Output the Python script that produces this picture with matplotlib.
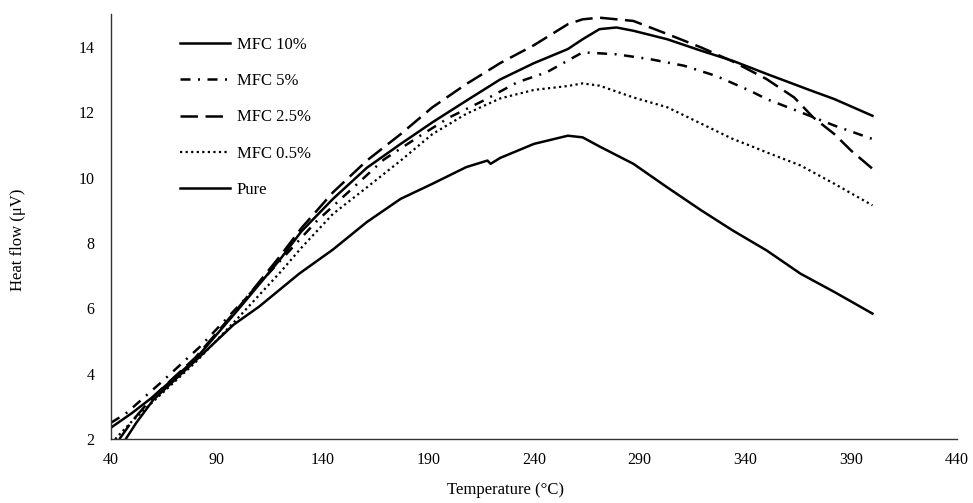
import matplotlib
matplotlib.use("Agg")
import matplotlib.pyplot as plt

# Datos (temperatura en °C, flujo de calor en µV)
T_MFC10 = [40, 50, 60, 80, 100, 120, 130, 145, 161, 177, 192, 208, 224, 240, 256, 263, 271, 279, 287, 303, 319, 334, 350, 371, 382, 400]
Y_MFC10 = [2.35, 2.8, 3.3, 4.45, 5.95, 7.5, 8.35, 9.35, 10.3, 11.03, 11.69, 12.35, 13.0, 13.5, 13.93, 14.23, 14.54, 14.59, 14.49, 14.23, 13.88, 13.57, 13.17, 12.66, 12.4, 11.89]

T_MFC5 = [40, 47, 64, 82, 100, 120, 137, 153, 169, 185, 200, 216, 232, 246, 263, 279, 295, 311, 326, 342, 350, 366, 382, 400]
Y_MFC5 = [2.5, 2.78, 3.75, 4.82, 6.05, 7.45, 8.65, 9.6, 10.55, 11.23, 11.84, 12.35, 12.91, 13.22, 13.83, 13.77, 13.62, 13.42, 13.11, 12.66, 12.4, 12.0, 11.59, 11.18]

T_MFC25 = [44, 50, 60, 80, 100, 120, 130, 145, 161, 177, 192, 208, 224, 240, 256, 263, 271, 287, 303, 319, 334, 350, 363, 372, 382, 390, 400]
Y_MFC25 = [2.0, 2.55, 3.3, 4.5, 6.0, 7.6, 8.45, 9.55, 10.52, 11.33, 12.15, 12.86, 13.5, 14.05, 14.69, 14.84, 14.89, 14.79, 14.39, 13.98, 13.55, 13.01, 12.45, 11.84, 11.33, 10.82, 10.27]

T_MFC05 = [42, 50, 60, 80, 100, 120, 130, 145, 161, 177, 192, 208, 224, 240, 256, 263, 271, 287, 303, 319, 334, 342, 350, 366, 382, 400]
Y_MFC05 = [2.0, 2.55, 3.15, 4.35, 5.7, 7.1, 7.85, 8.89, 9.7, 10.52, 11.33, 11.95, 12.42, 12.68, 12.8, 12.88, 12.81, 12.45, 12.15, 11.65, 11.18, 10.98, 10.77, 10.37, 9.81, 9.15]

T_PURE = [47, 52, 60, 80, 98, 110, 129, 145, 161, 177, 192, 208, 218, 219.5, 224, 240, 256, 263, 271, 287, 303, 319, 334, 350, 366, 382, 400]
Y_PURE = [2.0, 2.5, 3.2, 4.4, 5.5, 6.05, 7.06, 7.8, 8.64, 9.35, 9.81, 10.32, 10.52, 10.42, 10.6, 11.03, 11.28, 11.23, 10.95, 10.42, 9.7, 9.0, 8.38, 7.77, 7.06, 6.5, 5.84]

X_TICKS = [40, 90, 140, 190, 240, 290, 340, 390, 440]
Y_TICKS = [2, 4, 6, 8, 10, 12, 14]

plt.rcParams['font.family'] = ['Liberation Serif', 'DejaVu Serif']
plt.rcParams['font.size'] = 11.5

fig = plt.figure(figsize=(9.73, 5.03), dpi=100)
ax = fig.add_axes([0.114, 0.127, 0.8696, 0.845])

lw = 1.8
ax.plot(T_MFC10, Y_MFC10, color='black', lw=lw, ls='-', label='MFC 10%')
ax.plot(T_MFC5, Y_MFC5, color='black', lw=lw, ls=(0, (4, 3, 0.8, 3)), label='MFC 5%')
ax.plot(T_MFC25, Y_MFC25, color='black', lw=lw, ls=(0, (7, 3)), label='MFC 2.5%')
ax.plot(T_MFC05, Y_MFC05, color='black', lw=1.6, ls=(0, (1, 1.5)), label='MFC 0.5%')
ax.plot(T_PURE, Y_PURE, color='black', lw=lw, ls='-', label='Pure')

ax.set_xlim(40, 440)
ax.set_ylim(2, 15)
ax.set_xticks(X_TICKS)
ax.set_yticks(Y_TICKS)
ax.tick_params(length=0)
ax.tick_params(axis='y', pad=12)
ax.tick_params(axis='x', pad=9)

for lado in ['top', 'right']:
    ax.spines[lado].set_visible(False)
for lado in ['left', 'bottom']:
    ax.spines[lado].set_color('#333333')
    ax.spines[lado].set_linewidth(1.0)

ax.set_xlabel('Temperature (°C)', fontsize=12)
ax.set_ylabel('Heat flow (μV)', fontsize=12)
ax.xaxis.set_label_coords(0.466, -0.10)
ax.yaxis.set_label_coords(-0.10, 0.468)

ax.legend(loc='upper left', bbox_to_anchor=(0.0816, 0.946), frameon=False,
          borderpad=0, borderaxespad=0, handlelength=3.0, handletextpad=0.42,
          labelspacing=1.21, fontsize=12)

plt.savefig('out.png', dpi=100)
plt.close()
